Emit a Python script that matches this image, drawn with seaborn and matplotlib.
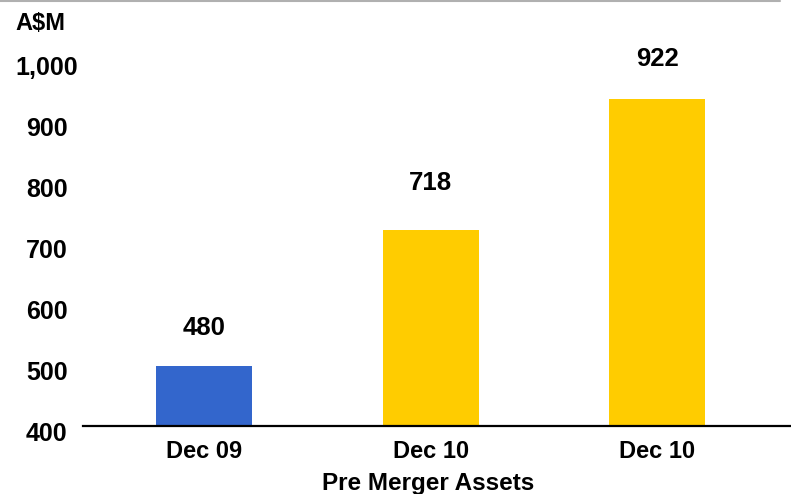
import numpy as np
import pandas as pd
import matplotlib
matplotlib.use('Agg')
import matplotlib.pyplot as plt
import matplotlib.transforms as mtransforms
from matplotlib.lines import Line2D
import seaborn as sns

# Chart data
period_labels = ['Dec 09', 'Dec 10', 'Dec 10']
bar_heights = [498, 721, 936]          # drawn bar tops in A$M
value_labels = [480, 718, 922]         # printed values above the bars
bar_colors = ['#3366CC', '#FFCC00', '#FFCC00']
y_ticks = [400, 500, 600, 700, 800, 900, 1000]

sns.set_style('white')
plt.rcParams['font.family'] = ['Liberation Sans', 'DejaVu Sans']
plt.rcParams['font.weight'] = 'bold'
plt.rcParams['text.color'] = 'black'
plt.rcParams['axes.labelcolor'] = 'black'
plt.rcParams['xtick.color'] = 'black'
plt.rcParams['ytick.color'] = 'black'

df = pd.DataFrame({'slot': range(len(bar_heights)), 'value': bar_heights})

fig = plt.figure(figsize=(7.91, 4.94), dpi=100)
ax = fig.add_axes([83 / 791, 68 / 494, 708 / 791, 426 / 494])

sns.barplot(data=df, x='slot', y='value', hue='slot', palette=bar_colors,
            legend=False, width=0.424, saturation=1, linewidth=0, ax=ax)

ax.set_ylim(400, 400 + 426 / 0.61)
ax.set_xlim(-0.534, 2.59)

# y axis: no line, labels only
ax.set_yticks(y_ticks)
ax.set_yticklabels([f'{v:,}' for v in y_ticks], fontsize=18, fontweight='bold')
ax.tick_params(axis='y', length=0, pad=26, labelcolor='black')
shift = mtransforms.ScaledTranslation(0, -0.055, fig.dpi_scale_trans)
for lab in ax.get_yticklabels():
    lab.set_horizontalalignment('center')
    lab.set_transform(lab.get_transform() + shift)

ax.set_xticks(range(len(period_labels)))
ax.set_xticklabels(period_labels, fontsize=17, fontweight='bold')
ax.tick_params(axis='x', length=0, pad=10, labelcolor='black')

ax.set_xlabel('Pre Merger Assets', fontsize=17.5, fontweight='bold', color='black')
ax.xaxis.set_label_coords((428 - 83) / 708, (426 - 483) / 426)
ax.xaxis.label.set_va('center')
ax.set_ylabel('')

for side in ['left', 'right', 'top']:
    ax.spines[side].set_visible(False)
ax.spines['bottom'].set_color('black')
ax.spines['bottom'].set_linewidth(1.6)

# value labels above bars
for i, v in enumerate(value_labels):
    ax.text(i, v + 80, f'{v}', ha='center', va='center',
            fontsize=18.5, fontweight='bold', color='black')

fig.text(40 / 791, 1 - 23 / 494, 'A$M', ha='center', va='center',
         fontsize=17, fontweight='bold', color='black')

# thin grey rule along the top
fig.add_artist(Line2D([0, 780 / 791], [1 - 1 / 494, 1 - 1 / 494],
                      transform=fig.transFigure, color='#b0b0b0', linewidth=1.5))

fig.savefig('out.png', dpi=100)
